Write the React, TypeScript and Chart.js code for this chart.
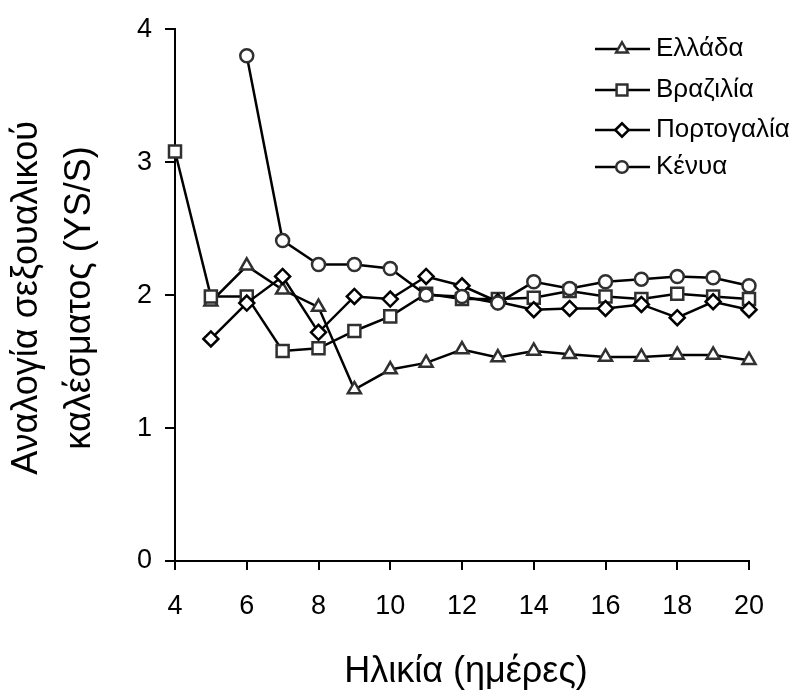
import React, { useEffect, useRef } from "react";
import { Chart, registerables } from "chart.js";
import { drawPoint } from "chart.js/helpers";

Chart.register(...registerables);

const ages = [4, 5, 6, 7, 8, 9, 10, 11, 12, 13, 14, 15, 16, 17, 18, 19, 20];
const greece = [null, 1.95, 2.22, 2.04, 1.91, 1.29, 1.44, 1.49, 1.59, 1.53, 1.58, 1.555, 1.535, 1.535, 1.55, 1.55, 1.51];
const brazil = [3.08, 1.99, 1.99, 1.58, 1.6, 1.73, 1.84, 2.01, 1.97, 1.97, 1.98, 2.03, 1.99, 1.97, 2.01, 1.99, 1.97];
const portugal = [null, 1.67, 1.94, 2.14, 1.72, 1.99, 1.97, 2.14, 2.07, 1.95, 1.89, 1.9, 1.9, 1.93, 1.83, 1.95, 1.89];
const kenya = [null, null, 3.8, 2.41, 2.23, 2.23, 2.2, 2.0, 1.99, 1.94, 2.1, 2.05, 2.1, 2.12, 2.14, 2.13, 2.07];

const seriesNames = ["Ελλάδα", "Βραζιλία", "Πορτογαλία", "Κένυα"];
const xTitle = "Ηλικία (ημέρες)";
const yTitle = ["Αναλογία σεξουαλικού", "καλέσματος (YS/S)"];

const FONT = "'Liberation Sans', Arial, sans-serif";
const MARKER_STROKE = "#303030";

const styles = [
  { pointStyle: "triangle", radius: 7.5, border: "#303030" },
  { pointStyle: "rect", radius: 8.5, border: "#303030" },
  { pointStyle: "rectRot", radius: 7.5, border: "#000000" },
  { pointStyle: "circle", radius: 6.5, border: "#303030" },
];

const toPoints = (vals: (number | null)[]) =>
  ages.map((a, i) => ({ x: a, y: vals[i] })).filter((p) => p.y !== null);

const decorPlugin = {
  id: "decor",
  afterDraw(chart: any) {
    const ctx = chart.ctx;
    ctx.save();
    // legend
    const rows = [49, 90, 130, 167];
    seriesNames.forEach((name, i) => {
      const y = rows[i];
      ctx.strokeStyle = "#000";
      ctx.lineWidth = 2.5;
      ctx.beginPath();
      ctx.moveTo(595, y);
      ctx.lineTo(650, y);
      ctx.stroke();
      ctx.fillStyle = "#fff";
      ctx.strokeStyle = styles[i].border;
      ctx.lineWidth = 2.5;
      drawPoint(ctx, { pointStyle: styles[i].pointStyle, radius: styles[i].radius * 0.9, rotation: 0, borderWidth: 2.5 }, 622, y);
      ctx.fillStyle = "#000";
      ctx.font = `26px ${FONT}`;
      ctx.textAlign = "left";
      ctx.textBaseline = "middle";
      ctx.fillText(name, 656, y);
    });
    // x title
    ctx.fillStyle = "#000";
    ctx.font = `36px ${FONT}`;
    ctx.textAlign = "center";
    ctx.textBaseline = "middle";
    ctx.fillText(xTitle, 466, 672);
    // y title
    ctx.translate(0, 298);
    ctx.rotate(-Math.PI / 2);
    ctx.fillText(yTitle[0], 0, 27);
    ctx.fillText(yTitle[1], 0, 80);
    ctx.restore();
  },
};

export default function App() {
  const ref = useRef<HTMLCanvasElement>(null);
  useEffect(() => {
    const datasets = [greece, brazil, portugal, kenya].map((vals, i) => ({
      label: seriesNames[i],
      data: toPoints(vals),
      borderColor: "#000",
      borderWidth: 2.5,
      pointStyle: styles[i].pointStyle,
      pointRadius: styles[i].radius,
      pointBackgroundColor: "#fff",
      pointBorderColor: styles[i].border,
      pointBorderWidth: 2.5,
      fill: false,
      tension: 0,
      clip: false,
      order: 3 - i,
    }));
    const chart = new Chart(ref.current!, {
      type: "line",
      data: { datasets } as any,
      options: {
        animation: false,
        responsive: false,
        devicePixelRatio: 1,
        layout: { padding: { top: 28, right: 46, left: 0, bottom: 0 } },
        plugins: { legend: { display: false }, tooltip: { enabled: false } },
        scales: {
          x: {
            type: "linear",
            min: 4,
            max: 20,
            afterFit: (s: any) => {
              s.height = 138;
            },
            ticks: { stepSize: 2, color: "#000", font: { family: FONT, size: 27 }, padding: 20, maxRotation: 0 },
            grid: { drawOnChartArea: false, drawTicks: true, tickLength: 9, color: "#000", lineWidth: 2 },
            border: { color: "#000", width: 2 },
          },
          y: {
            type: "linear",
            min: 0,
            max: 4,
            afterFit: (s: any) => {
              s.width = 175;
            },
            ticks: { stepSize: 1, color: "#000", font: { family: FONT, size: 27 }, padding: 13 },
            grid: { drawOnChartArea: false, drawTicks: true, tickLength: 10, color: "#000", lineWidth: 2 },
            border: { color: "#000", width: 2 },
          },
        },
      } as any,
      plugins: [decorPlugin],
    });
    return () => chart.destroy();
  }, []);
  return (
    <div style={{ position: "fixed", left: 0, top: 0, width: 795, height: 699, background: "#fff" }}>
      <canvas ref={ref} width={795} height={699} style={{ width: 795, height: 699 }} />
    </div>
  );
}
